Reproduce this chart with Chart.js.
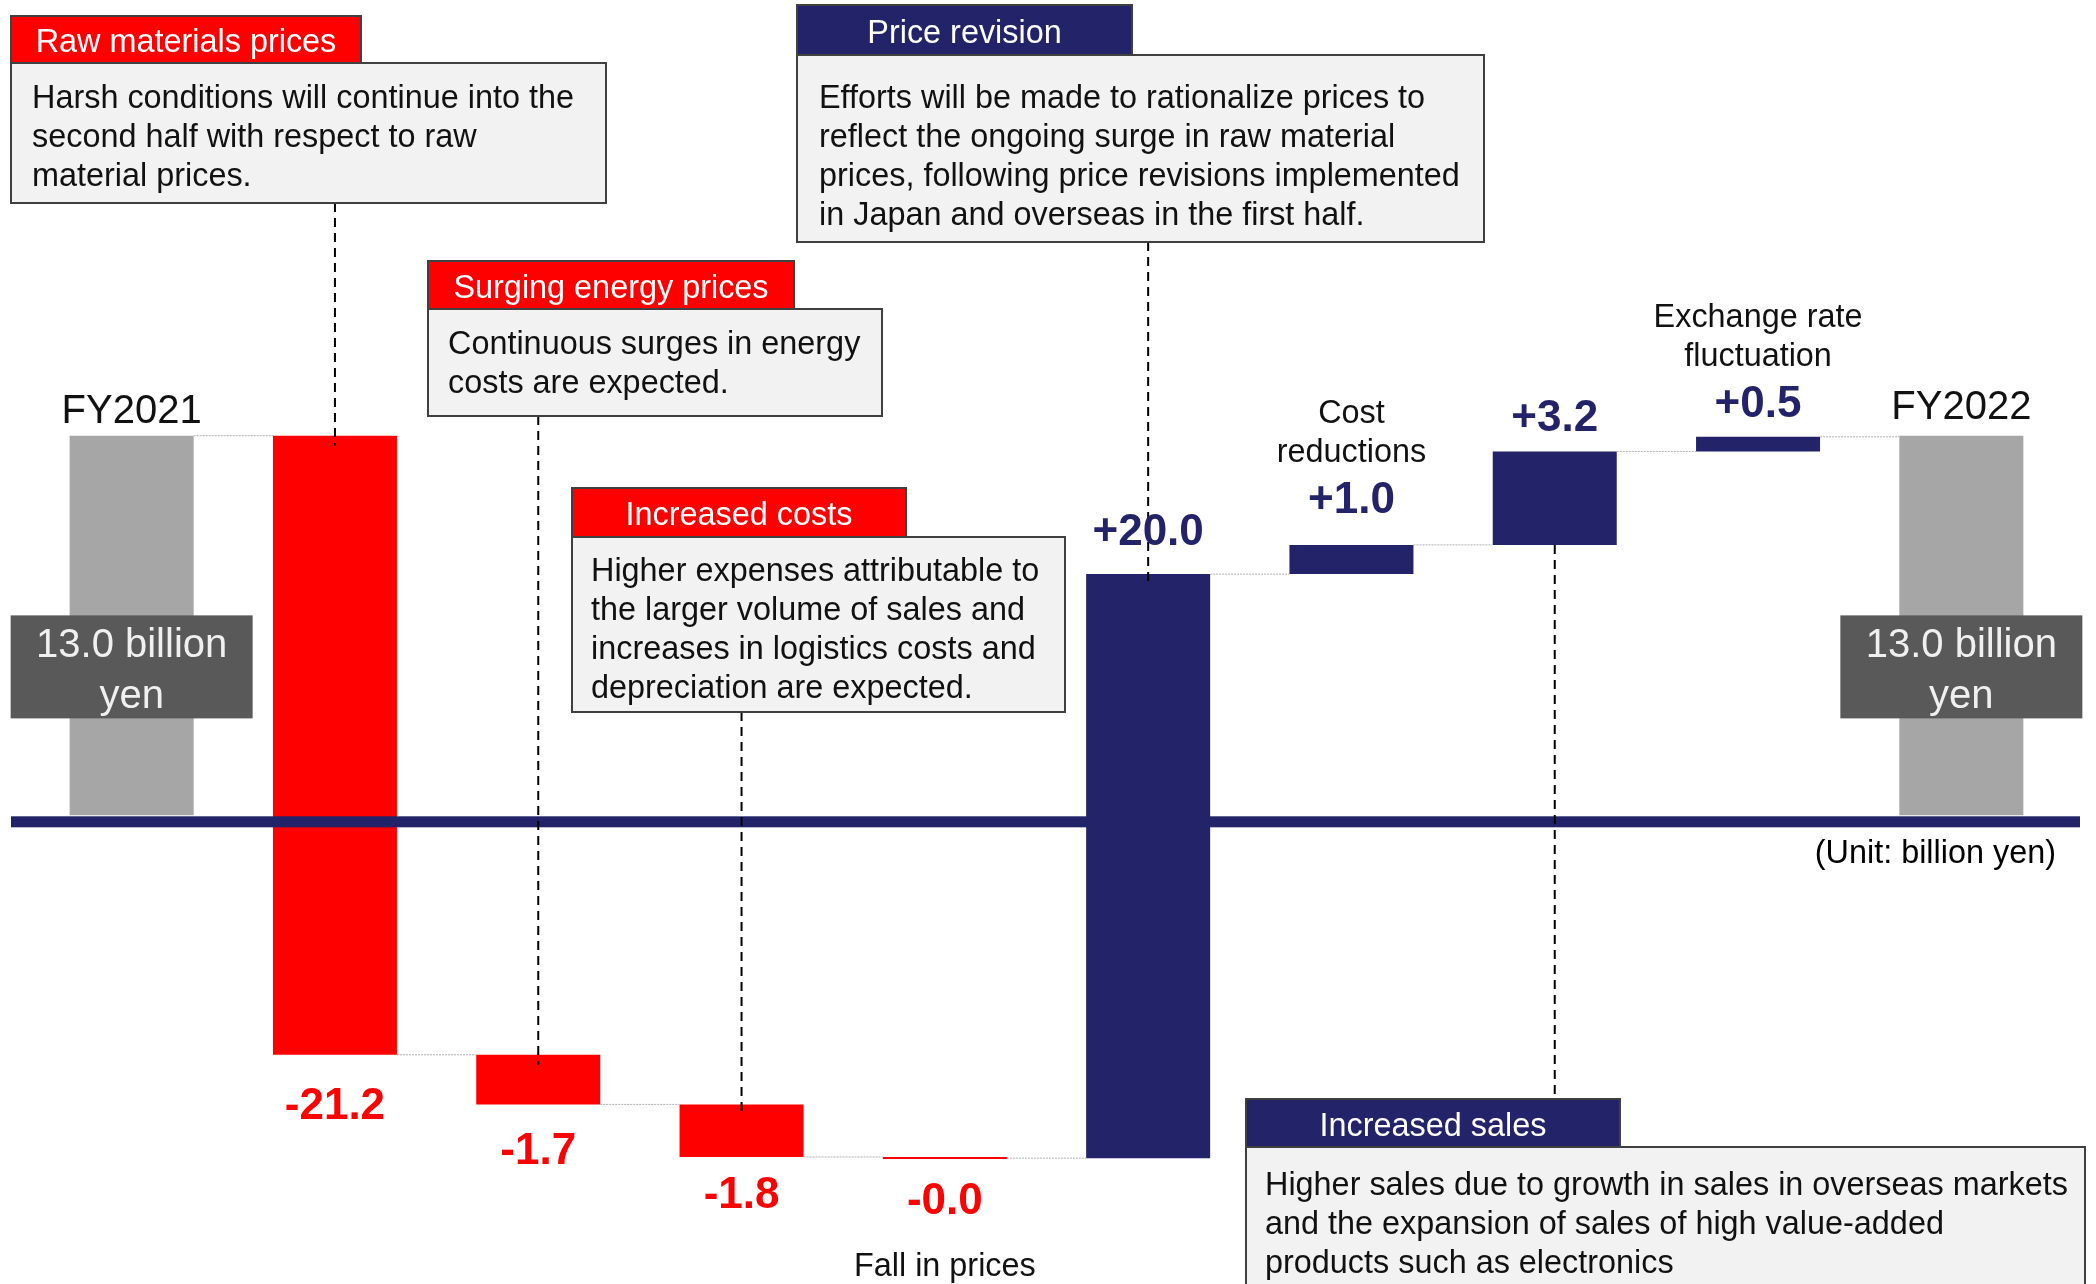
<!DOCTYPE html>
<html>
<head>
<meta charset="utf-8">
<script src="https://cdn.jsdelivr.net/npm/chart.js@4"></script>
<style>
  html, body { margin: 0; padding: 0; background: #fff; }
  #wrap { width: 2096px; height: 1284px; }
</style>
</head>
<body>
<div id="wrap"><canvas id="chart" width="2096" height="1284"></canvas></div>
<script>
// waterfall data (billion yen)
const categories = ['FY2021', 'Raw materials prices', 'Surging energy prices', 'Increased costs', 'Fall in prices',
  'Price revision', 'Cost reductions', 'Increased sales', 'Exchange rate fluctuation', 'FY2022']
const changes = [13.0, -21.2, -1.7, -1.8, -0.04, 20.0, 1.0, 3.2, 0.5, 13.0]
const kinds = ['total', 'down', 'down', 'down', 'down', 'up', 'up', 'up', 'up', 'total']
const valueLabels = ['', '-21.2', '-1.7', '-1.8', '-0.0', '+20.0', '+1.0', '+3.2', '+0.5', '']
const nameLabels = [['FY2021'], [], [], [], ['Fall in prices'], [], ['Cost', 'reductions'], [], ['Exchange rate', 'fluctuation'], ['FY2022']]
const totalText = ['13.0 billion', 'yen']
const unitText = '(Unit: billion yen)'

const noteTitles = ['Raw materials prices', 'Surging energy prices', 'Increased costs', 'Price revision', 'Increased sales']
const noteLines = [
  ['Harsh conditions will continue into the', 'second half with respect to raw', 'material prices.'],
  ['Continuous surges in energy', 'costs are expected.'],
  ['Higher expenses attributable to', 'the larger volume of sales and', 'increases in logistics costs and', 'depreciation are expected.'],
  ['Efforts will be made to rationalize prices to', 'reflect the ongoing surge in raw material',
    'prices, following price revisions implemented', 'in Japan and overseas in the first half.'],
  ['Higher sales due to growth in sales in overseas markets', 'and the expansion of sales of high value-added',
    'products such as electronics'],
]
const noteBars = [1, 2, 3, 5, 7]

// build floating bars from the changes
const floating = []
let level = 0
changes.forEach((v, i) => {
  if (kinds[i] === 'total') {
    floating.push([0, v])
    level = v
  } else {
    floating.push([level, level + v])
    level = level + v
  }
})

const RED = '#ff0000'
const NAVY = '#232369'
const GRAY = '#a6a6a6'
const FONT = '"Liberation Sans", Arial, sans-serif'

// distance from bar end to value label centre (px)
const labelGap = [0, 52, 47, 39, 43, 41, 44, 33, 32, 0]

// note box layout (px)
const noteBoxes = [
  { tab: [11, 16, 350, 47], body: [11, 63, 595, 140], tx: 32, ty: 99, color: RED, dash: 'down' },
  { tab: [428, 261, 366, 48], body: [428, 309, 454, 107], tx: 448, ty: 345, color: RED, dash: 'down' },
  { tab: [572, 488, 334, 49], body: [572, 537, 493, 175], tx: 591, ty: 572, color: RED, dash: 'down' },
  { tab: [797, 5, 335, 50], body: [797, 55, 687, 187], tx: 819, ty: 99, color: NAVY, dash: 'down' },
  { tab: [1246, 1099, 374, 48], body: [1246, 1147, 839, 160], tx: 1265, ty: 1186, color: NAVY, dash: 'up' },
]

const decor = {
  id: 'decor',
  afterDatasetsDraw(chart) {
    const c = chart.ctx
    const y = chart.scales.y
    const bars = chart.getDatasetMeta(0).data
    c.save()

    // thin connectors between bars
    c.strokeStyle = '#b0b0b0'
    c.lineWidth = 1
    c.setLineDash([2, 1])
    for (let i = 0; i < bars.length - 1; i++) {
      const lv = y.getPixelForValue(floating[i][1])
      c.beginPath()
      c.moveTo(bars[i].x + bars[i].width / 2, lv)
      c.lineTo(bars[i + 1].x - bars[i + 1].width / 2, lv)
      c.stroke()
    }
    c.setLineDash([])

    // zero axis line
    const y0 = y.getPixelForValue(0)
    c.fillStyle = NAVY
    c.fillRect(11, y0 + 1, 2069, 11)

    // unit
    c.fillStyle = '#000'
    c.font = '32.4px ' + FONT
    c.textAlign = 'right'
    c.textBaseline = 'middle'
    c.fillText(unitText, 2056, y0 + 39)

    // dashed leaders from notes to bars
    c.strokeStyle = '#000'
    c.lineWidth = 2
    c.setLineDash([9, 6])
    noteBoxes.forEach((nb, k) => {
      const b = bars[noteBars[k]]
      c.beginPath()
      if (nb.dash === 'down') {
        const top = Math.min(b.y, b.base)
        c.moveTo(b.x, nb.body[1] + nb.body[3])
        c.lineTo(b.x, top + 10)
      } else {
        const bottom = Math.max(b.y, b.base)
        c.moveTo(b.x, bottom)
        c.lineTo(b.x, nb.tab[1])
      }
      c.stroke()
    })
    c.setLineDash([])

    // note boxes
    noteBoxes.forEach((nb, k) => {
      const [bx, by, bw, bh] = nb.body
      c.fillStyle = '#f2f2f2'
      c.fillRect(bx, by, bw, bh)
      c.strokeStyle = '#404040'
      c.lineWidth = 2
      c.strokeRect(bx, by, bw, bh)
      const [tx, ty, tw, th] = nb.tab
      c.fillStyle = nb.color
      c.fillRect(tx, ty, tw, th)
      c.strokeRect(tx, ty, tw, th)
      c.font = '32.4px ' + FONT
      c.fillStyle = '#fff'
      c.textAlign = 'center'
      c.textBaseline = 'middle'
      c.fillText(noteTitles[k], tx + tw / 2, ty + th / 2 + 4)
      c.fillStyle = '#111'
      c.textAlign = 'left'
      noteLines[k].forEach((ln, j) => c.fillText(ln, nb.tx, nb.ty + j * 39))
    })

    // value and name labels
    bars.forEach((b, i) => {
      const top = Math.min(b.y, b.base)
      const bottom = Math.max(b.y, b.base)
      c.textAlign = 'center'
      c.textBaseline = 'middle'
      if (kinds[i] === 'total') {
        c.fillStyle = '#111'
        c.font = '40px ' + FONT
        c.fillText(nameLabels[i][0], b.x, top - (i === 0 ? 24 : 28))
        // value box
        const cy = y.getPixelForValue(5.1)
        c.fillStyle = '#595959'
        c.fillRect(b.x - 121, cy - 51, 242, 103)
        c.fillStyle = '#f0f0f0'
        c.fillText(totalText[0], b.x, cy - 20)
        c.fillText(totalText[1], b.x, cy + 31)
        return
      }
      c.font = 'bold 44px ' + FONT
      if (kinds[i] === 'down') {
        c.fillStyle = RED
        const vy = bottom + labelGap[i]
        c.fillText(valueLabels[i], b.x, vy)
        c.fillStyle = '#111'
        c.font = '32.4px ' + FONT
        nameLabels[i].forEach((ln, j) => c.fillText(ln, b.x, vy + 65 + j * 39))
      } else {
        c.fillStyle = NAVY
        const vy = top - labelGap[i]
        c.fillText(valueLabels[i], b.x, vy)
        c.fillStyle = '#111'
        c.font = '32.4px ' + FONT
        const n = nameLabels[i].length
        nameLabels[i].forEach((ln, j) => c.fillText(ln, b.x, vy - 48 - (n - 1 - j) * 39))
      }
    })
    c.restore()
  },
}

new Chart(document.getElementById('chart'), {
  type: 'bar',
  data: {
    labels: categories,
    datasets: [
      {
        data: floating,
        backgroundColor: kinds.map((k) => (k === 'total' ? GRAY : k === 'down' ? RED : NAVY)),
        borderWidth: 0,
        borderSkipped: false,
        barPercentage: 0.61,
        categoryPercentage: 1,
        minBarLength: 2,
      },
    ],
  },
  options: {
    responsive: false,
    animation: false,
    devicePixelRatio: 1,
    layout: { padding: { left: 30, right: 33, top: 0, bottom: 0 } },
    plugins: { legend: { display: false }, tooltip: { enabled: false } },
    scales: {
      x: { display: false },
      y: { display: false, min: -16.05, max: 27.92 },
    },
  },
  plugins: [decor],
})
</script>
</body>
</html>
